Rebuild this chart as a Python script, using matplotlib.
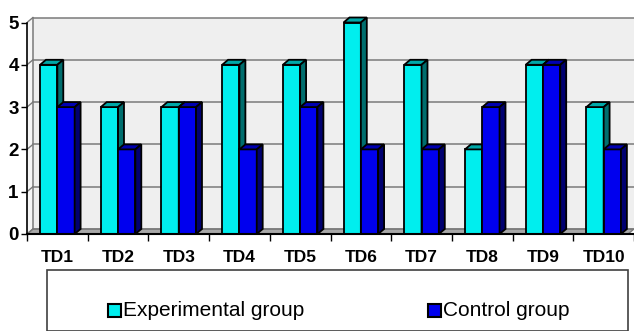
import matplotlib
matplotlib.use('Agg')
import matplotlib.pyplot as plt
from matplotlib.patches import Polygon, Rectangle

categories = ['TD1', 'TD2', 'TD3', 'TD4', 'TD5', 'TD6', 'TD7', 'TD8', 'TD9', 'TD10']
experimental = [4, 3, 3, 4, 4, 5, 4, 2, 4, 3]
control = [3, 2, 3, 2, 3, 2, 2, 3, 4, 2]
y_ticks = [0, 1, 2, 3, 4, 5]

W, H = 634, 331
UX, UY = 61.3, 42.3          # pixels per data unit
DX, DY = 6 / UX, 5 / UY      # 3d depth offset in data units
BW = 0.285                   # bar width
XMAX = (634 - 27) / UX

EXP = ('#00eeee', '#00a8a8', '#006e6e')   # front, top, side
CTL = ('#0000ee', '#0000b0', '#000070')

plt.rcParams['font.family'] = ['Liberation Sans', 'DejaVu Sans']

fig = plt.figure(figsize=(W / 100, H / 100), dpi=100)
ax = fig.add_axes([27 / W, (H - 234) / H, (634 - 27) / W, (5.3 * UY) / H])
ax.set_xlim(0, XMAX)
ax.set_ylim(0, 5.3)
ax.set_facecolor('none')

# back wall, side wall and floor
ax.add_patch(Polygon([(DX, DY), (XMAX + DX, DY), (XMAX + DX, 5 + DY), (DX, 5 + DY)],
                     closed=True, facecolor='#efefef', edgecolor='none', zorder=0))
ax.add_patch(Polygon([(0, 0), (DX, DY), (DX, 5 + DY), (0, 5)],
                     closed=True, facecolor='#f6f6f6', edgecolor='none', zorder=0))
ax.add_patch(Polygon([(0, 0), (XMAX, 0), (XMAX + DX, DY), (DX, DY)],
                     closed=True, facecolor='#a8a8a8', edgecolor='#7a7a7a', lw=1, zorder=1))
for v in y_ticks:
    ax.plot([DX, XMAX + DX], [v + DY, v + DY], color='#7a7a7a', lw=1.1, zorder=1)
    ax.plot([0, DX], [v, v + DY], color='#7a7a7a', lw=1, zorder=1)
ax.plot([DX, DX], [DY, 5 + DY], color='#7a7a7a', lw=1.1, zorder=1)


def draw_bars(xs, vals, cols):
    front, top, side = cols
    ax.bar(xs, vals, width=BW, align='edge', color=front, edgecolor='black', lw=1.3, zorder=3)
    for x0, v in zip(xs, vals):
        x1 = x0 + BW
        ax.add_patch(Polygon([(x0, v), (x1, v), (x1 + DX, v + DY), (x0 + DX, v + DY)],
                             closed=True, facecolor=top, edgecolor='black', lw=1.3, zorder=3))
        ax.add_patch(Polygon([(x1, 0), (x1 + DX, DY), (x1 + DX, v + DY), (x1, v)],
                             closed=True, facecolor=side, edgecolor='black', lw=1.3, zorder=3))


centers = [i + 0.5 for i in range(len(categories))]
draw_bars([c - BW for c in centers], experimental, EXP)
draw_bars(centers, control, CTL)

# axes
for s in ['top', 'right']:
    ax.spines[s].set_visible(False)
ax.spines['left'].set_bounds(0, 5)
ax.spines['left'].set_linewidth(1.2)
ax.spines['bottom'].set_linewidth(1.5)
ax.spines['left'].set_zorder(4)
ax.spines['bottom'].set_zorder(4)

ax.set_yticks(y_ticks)
ax.set_yticklabels([str(v) for v in y_ticks], fontsize=13.5, fontweight='bold')
ax.tick_params(axis='y', length=4, width=1, pad=2)
ax.set_xticks(centers)
ax.set_xticklabels(categories, fontsize=12.5, fontweight='bold')
ax.tick_params(axis='x', which='major', length=0, pad=11.5)
ax.set_xticks(list(range(len(categories) + 1)), minor=True)
ax.tick_params(axis='x', which='minor', length=5, width=1)

# legend box
fig.add_artist(Rectangle((47 / W, 0), (628 - 47) / W, (H - 287) / H + 0.05,
                         transform=fig.transFigure, facecolor='white',
                         edgecolor='#404040', lw=1.2))
legend_items = [('Experimental group', EXP[0], 108), ('Control group', CTL[0], 428)]
for label, col, lx in legend_items:
    fig.add_artist(Rectangle((lx / W, (H - 317) / H), 13 / W, 13 / H,
                             transform=fig.transFigure, facecolor=col,
                             edgecolor='black', lw=1.5))
    fig.text((lx + 15) / W, (H - 311) / H, label, fontsize=15, va='center', ha='left')

fig.savefig('out.png', dpi=100)
